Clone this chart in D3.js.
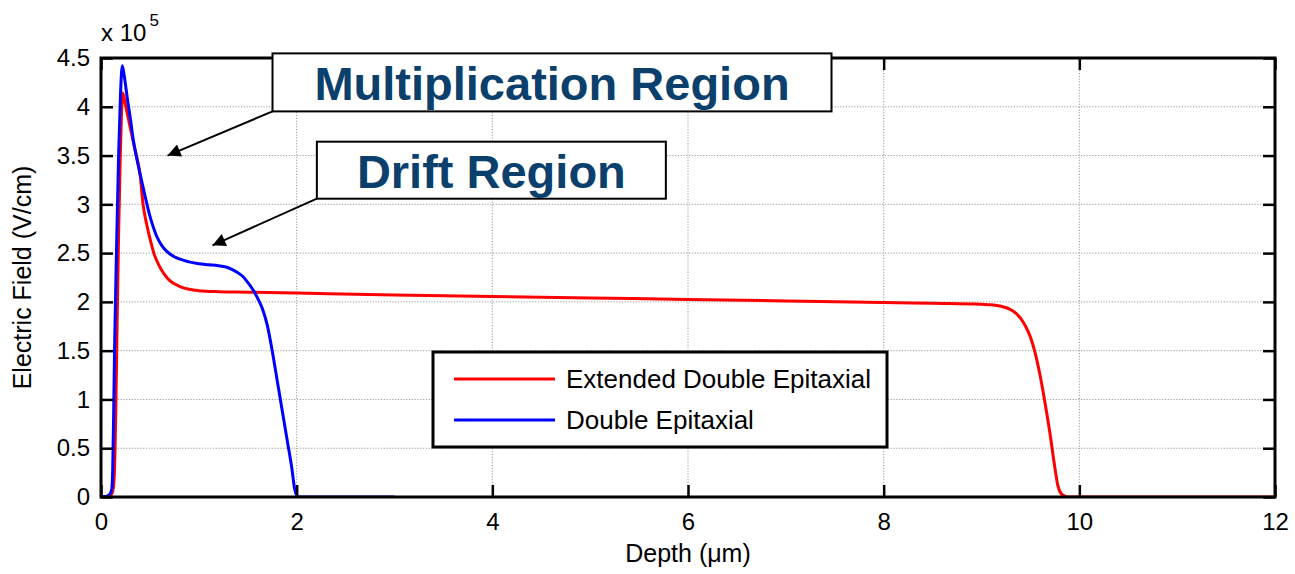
<!DOCTYPE html>
<html>
<head>
<meta charset="utf-8">
<script src="https://cdn.jsdelivr.net/npm/d3@7/dist/d3.min.js"></script>
<style>
  html, body { margin: 0; padding: 0; background: #fff; }
  svg { display: block; font-family: "Liberation Sans", Arial, sans-serif; }
</style>
</head>
<body>
<svg id="chart" width="1295" height="574"></svg>
<script>
// Electric field profiles (units of 10^5 V/cm) versus depth (µm)
const extendedDepth = [0, 0.05, 0.1, 0.12, 0.135, 0.15, 0.165, 0.18, 0.195, 0.21, 0.222, 0.25, 0.3, 0.35, 0.4, 0.43, 0.47, 0.5, 0.54, 0.6, 0.65, 0.7, 0.8, 0.9, 1.0, 1.2, 1.5, 2, 3, 4, 5, 6, 7, 8, 8.5, 9, 9.1, 9.2, 9.3, 9.35, 9.4, 9.45, 9.5, 9.55, 9.6, 9.65, 9.7, 9.75, 9.78, 9.81, 9.85, 9.9, 10, 12];
const extendedField = [0, 0.005, 0.02, 0.06, 0.2, 0.8, 1.8, 2.7, 3.4, 3.95, 4.14, 4.02, 3.78, 3.55, 3.3, 3.0, 2.78, 2.65, 2.5, 2.36, 2.28, 2.22, 2.16, 2.13, 2.115, 2.105, 2.1, 2.09, 2.07, 2.055, 2.04, 2.025, 2.01, 1.995, 1.985, 1.975, 1.97, 1.955, 1.92, 1.885, 1.83, 1.75, 1.64, 1.47, 1.24, 0.96, 0.65, 0.3, 0.12, 0.04, 0.01, 0, 0, 0];

const doubleDepth = [0, 0.05, 0.09, 0.11, 0.12, 0.13, 0.14, 0.16, 0.18, 0.2, 0.218, 0.24, 0.27, 0.3, 0.33, 0.37, 0.42, 0.47, 0.5, 0.53, 0.57, 0.62, 0.67, 0.72, 0.8, 0.9, 1.0, 1.1, 1.2, 1.3, 1.38, 1.45, 1.5, 1.55, 1.6, 1.65, 1.7, 1.75, 1.8, 1.85, 1.9, 1.95, 1.98, 2.0, 2.03, 3.0];
const doubleField = [0, 0.005, 0.03, 0.08, 0.3, 0.9, 1.6, 2.6, 3.5, 4.15, 4.42, 4.3, 4.08, 3.88, 3.66, 3.45, 3.22, 3.0, 2.88, 2.78, 2.67, 2.58, 2.52, 2.48, 2.44, 2.41, 2.39, 2.38, 2.37, 2.35, 2.31, 2.26, 2.2, 2.13, 2.04, 1.93, 1.76, 1.5, 1.2, 0.9, 0.6, 0.3, 0.08, 0.02, 0, 0];

const seriesNames = ["Extended Double Epitaxial", "Double Epitaxial"];
const seriesColors = ["#ff0000", "#0000ff"];

const xTicks = [0, 2, 4, 6, 8, 10, 12];
const yTicks = [0, 0.5, 1, 1.5, 2, 2.5, 3, 3.5, 4, 4.5];

const annotations = [
  { text: "Multiplication Region", x: 4.61, y: 4.25, ax: 0.68, ay: 3.5 },
  { text: "Drift Region",          x: 3.99, y: 3.35, ax: 1.14, ay: 2.58 }
];

const svg = d3.select("#chart");
const W = 1295, H = 574;
const margin = { left: 101, right: 20, top: 58, bottom: 77 };
const innerW = W - margin.left - margin.right;
const innerH = H - margin.top - margin.bottom;

svg.append("rect").attr("width", W).attr("height", H).attr("fill", "#fff");

const x = d3.scaleLinear().domain([0, 12]).range([margin.left, margin.left + innerW]);
const y = d3.scaleLinear().domain([0, 4.5]).range([margin.top + innerH, margin.top]);

// dotted grid
const grid = svg.append("g").attr("stroke", "#9a9a9a").attr("stroke-width", 1)
  .attr("stroke-dasharray", "1.2,1.6");
grid.selectAll("line.gx").data(xTicks.slice(1, -1)).join("line")
  .attr("x1", d => x(d)).attr("x2", d => x(d))
  .attr("y1", y(0)).attr("y2", y(4.5));
grid.selectAll("line.gy").data(yTicks.slice(1, -1)).join("line")
  .attr("y1", d => y(d)).attr("y2", d => y(d))
  .attr("x1", x(0)).attr("x2", x(12));

// curves
const defs = svg.append("defs");
defs.append("clipPath").attr("id", "plotClip")
  .append("rect").attr("x", x(0)).attr("y", y(4.5)).attr("width", innerW).attr("height", innerH);

const line = d3.line().x(d => x(d[0])).y(d => y(d[1])).curve(d3.curveMonotoneX);
const series = [
  d3.zip(extendedDepth, extendedField),
  d3.zip(doubleDepth, doubleField)
];
const curves = svg.append("g").attr("clip-path", "url(#plotClip)");
series.forEach((s, i) => {
  curves.append("path").datum(s).attr("d", line)
    .attr("fill", "none").attr("stroke", seriesColors[i]).attr("stroke-width", 3)
    .attr("stroke-linejoin", "round");
});

// axes with inward ticks on all four sides
const tickLen = 12;
const fmt = d3.format("");
const axisBottom = d3.axisBottom(x).tickValues(xTicks).tickSize(-tickLen).tickPadding(16).tickFormat(fmt);
const axisLeft = d3.axisLeft(y).tickValues(yTicks).tickSize(-tickLen).tickPadding(11).tickFormat(fmt);
const axisTop = d3.axisTop(x).tickValues(xTicks).tickSize(-tickLen).tickFormat("");
const axisRight = d3.axisRight(y).tickValues(yTicks).tickSize(-tickLen).tickFormat("");

function styleAxis(g) {
  g.select(".domain").remove();
  g.selectAll(".tick line").attr("stroke", "#000").attr("stroke-width", 2.5);
  g.selectAll(".tick text").attr("fill", "#000").attr("font-size", 24)
    .attr("font-family", "'Liberation Sans', Arial, sans-serif");
}
svg.append("g").attr("transform", `translate(0,${y(0)})`).call(axisBottom).call(styleAxis);
svg.append("g").attr("transform", `translate(${x(0)},0)`).call(axisLeft).call(styleAxis);
svg.append("g").attr("transform", `translate(0,${y(4.5)})`).call(axisTop).call(styleAxis);
svg.append("g").attr("transform", `translate(${x(12)},0)`).call(axisRight).call(styleAxis);

svg.append("rect").attr("x", x(0)).attr("y", y(4.5)).attr("width", innerW).attr("height", innerH)
  .attr("fill", "none").attr("stroke", "#000").attr("stroke-width", 3);

// exponent label
const expo = svg.append("text").attr("x", x(0)).attr("y", 41).attr("font-size", 24).attr("fill", "#000");
expo.append("tspan").text("x 10");
expo.append("tspan").attr("dy", -15).attr("font-size", 17).attr("dx", 3).text("5");

// axis labels
svg.append("text").attr("x", (x(0) + x(12)) / 2).attr("y", 562).attr("text-anchor", "middle")
  .attr("font-size", 25).attr("fill", "#000").text("Depth (\u03bcm)");
svg.append("text").attr("transform", `translate(31,${(y(0) + y(4.5)) / 2}) rotate(-90)`)
  .attr("text-anchor", "middle").attr("font-size", 25).attr("fill", "#000")
  .text("Electric Field (V/cm)");

// legend
const legend = svg.append("g");
const lgX = 433, lgY = 352, lgW = 454, lgH = 95;
legend.append("rect").attr("x", lgX).attr("y", lgY).attr("width", lgW).attr("height", lgH)
  .attr("fill", "#fff").attr("stroke", "#000").attr("stroke-width", 3);
seriesNames.forEach((name, i) => {
  const cy = lgY + 27 + i * 41;
  legend.append("line").attr("x1", lgX + 21).attr("x2", lgX + 122).attr("y1", cy).attr("y2", cy)
    .attr("stroke", seriesColors[i]).attr("stroke-width", 3);
  legend.append("text").attr("x", lgX + 133).attr("y", cy + 9).attr("font-size", 26)
    .attr("fill", "#000").text(name);
});

// region callouts with arrows
defs.append("marker").attr("id", "arrowHead").attr("viewBox", "0 0 10 10")
  .attr("refX", 10).attr("refY", 5).attr("markerWidth", 18).attr("markerHeight", 13)
  .attr("markerUnits", "userSpaceOnUse").attr("orient", "auto")
  .append("path").attr("d", "M0,0 L10,5 L0,10 Z").attr("fill", "#000");

const boxSize = [{ w: 559, h: 58 }, { w: 349, h: 57 }];
annotations.forEach((a, i) => {
  const cx = x(a.x), cy = y(a.y);
  const bw = boxSize[i].w, bh = boxSize[i].h;
  const bx = cx - bw / 2, by = cy - bh / 2;
  svg.append("line").attr("x1", bx).attr("y1", by + bh)
    .attr("x2", x(a.ax)).attr("y2", y(a.ay))
    .attr("stroke", "#000").attr("stroke-width", 2).attr("marker-end", "url(#arrowHead)");
  svg.append("rect").attr("x", bx).attr("y", by).attr("width", bw).attr("height", bh)
    .attr("fill", "#fff").attr("stroke", "#000").attr("stroke-width", 2);
  svg.append("text").attr("x", cx).attr("y", cy + 18).attr("text-anchor", "middle")
    .attr("font-size", 47).attr("font-weight", "bold").attr("fill", "#0b3f6c").text(a.text);
});
</script>
</body>
</html>
